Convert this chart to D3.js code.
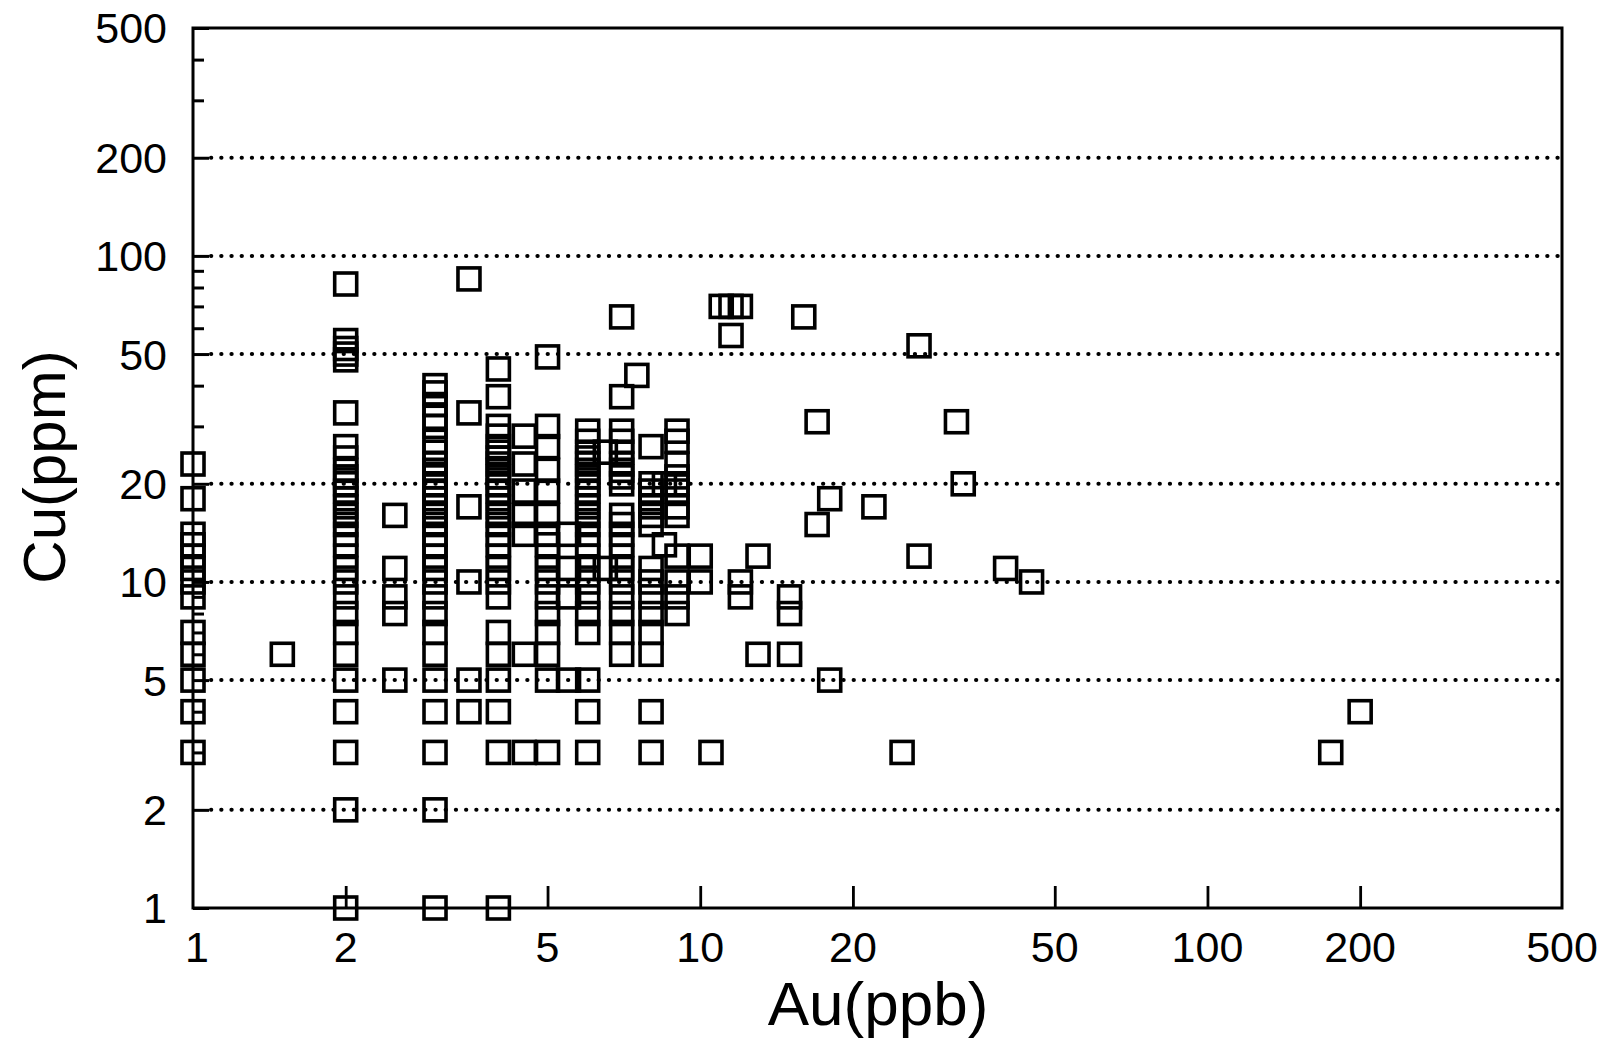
<!DOCTYPE html>
<html>
<head>
<meta charset="utf-8">
<script src="https://cdn.jsdelivr.net/npm/d3@7"></script>
<style>
  html, body { margin: 0; padding: 0; background: #fff; }
  svg { display: block; }
  text { font-family: "Liberation Sans", Arial, sans-serif; fill: #000; }
</style>
</head>
<body>
<svg id="chart" width="1611" height="1043"></svg>
<script>
// ---- Data ----
const auLevels = [1, 1.5, 2, 2.5, 3, 3.5, 4, 4.5, 5, 5.5, 6, 6.5, 7, 7.5, 8, 8.5, 9, 10, 10.5, 11, 11.5, 12, 13, 15, 16, 17, 18, 22, 25, 27, 32, 33, 40, 45, 175, 200];
const cuAtAu1   = [23, 18, 14, 13, 12, 11, 10, 9, 7, 6, 5, 4, 3];
const cuAtAu1_5 = [6];
const cuAtAu2   = [82, 55, 52, 50, 48, 33, 26, 24, 22, 21, 20, 19, 18, 17, 16, 15, 14, 13, 12, 11, 10, 9, 8, 7, 6, 5, 4, 3, 2, 1];
const cuAtAu2_5 = [16, 11, 9, 8, 5];
const cuAtAu3   = [40, 38, 35, 32, 30, 27, 25, 23, 22, 21, 20, 19, 18, 17, 16, 15, 14, 13, 12, 11, 10, 9, 8, 7, 6, 5, 4, 3, 2, 1];
const cuAtAu3_5 = [85, 33, 17, 10, 5, 4];
const cuAtAu4   = [45, 37, 30, 28, 26, 25, 24, 23, 22, 21, 20, 19, 18, 17, 16, 15, 14, 13, 12, 11, 10, 9, 7, 6, 5, 4, 3, 1];
const cuAtAu4_5 = [28, 23, 19, 16, 14, 6, 3];
const cuAtAu5   = [49, 30, 26, 22, 19, 16, 14, 13, 12, 11, 10, 9, 8, 7, 6, 5, 3];
const cuAtAu5_5 = [14, 11, 9, 5];
const cuAtAu6   = [29, 27, 25, 24, 23, 22, 21, 20, 19, 18, 17, 16, 15, 14, 13, 12, 11, 10, 9, 8, 7, 5, 4, 3];
const cuAtAu6_5 = [25, 11];
const cuAtAu7   = [65, 37, 29, 27, 25, 23, 22, 21, 20, 16, 15, 14, 13, 12, 11, 10, 9, 8, 7, 6];
const cuAtAu7_5 = [43];
const cuAtAu8   = [26, 20, 19, 18, 17, 16, 15, 11, 10, 9, 8, 7, 6, 4, 3];
const cuAtAu8_5 = [20, 13];
const cuAtAu9   = [29, 27, 23, 21, 20, 19, 17, 16, 12, 10, 9, 8];
const cuAtAu10  = [12, 10];
const cuAtAu10_5 = [3];
const cuAtAu11  = [70];
const cuAtAu11_5 = [70, 57];
const cuAtAu12  = [70, 10, 9];
const cuAtAu13  = [12, 6];
const cuAtAu15  = [9, 8, 6];
const cuAtAu16  = [65];
const cuAtAu17  = [31, 15];
const cuAtAu18  = [18, 5];
const cuAtAu22  = [17];
const cuAtAu25  = [3];
const cuAtAu27  = [53, 12];
const cuAtAu32  = [31];
const cuAtAu33  = [20];
const cuAtAu40  = [11];
const cuAtAu45  = [10];
const cuAtAu175 = [3];
const cuAtAu200 = [4];
const cuByAu = [cuAtAu1, cuAtAu1_5, cuAtAu2, cuAtAu2_5, cuAtAu3, cuAtAu3_5, cuAtAu4, cuAtAu4_5, cuAtAu5, cuAtAu5_5,
  cuAtAu6, cuAtAu6_5, cuAtAu7, cuAtAu7_5, cuAtAu8, cuAtAu8_5, cuAtAu9, cuAtAu10, cuAtAu10_5, cuAtAu11, cuAtAu11_5,
  cuAtAu12, cuAtAu13, cuAtAu15, cuAtAu16, cuAtAu17, cuAtAu18, cuAtAu22, cuAtAu25, cuAtAu27, cuAtAu32, cuAtAu33,
  cuAtAu40, cuAtAu45, cuAtAu175, cuAtAu200];

const xTickValues = [1, 2, 5, 10, 20, 50, 100, 200, 500];
const yTickValues = [1, 2, 5, 10, 20, 50, 100, 200, 500];
const yMinorTicks = [3, 4, 6, 7, 8, 9, 30, 40, 60, 70, 80, 90, 300, 400];
const yGridValues = [2, 5, 10, 20, 50, 100, 200];
const xTitle = "Au(ppb)";
const yTitle = "Cu(ppm)";

// ---- Build points ----
const points = [];
auLevels.forEach((au, i) => cuByAu[i].forEach(cu => points.push({au, cu})));

// ---- Layout ----
const L = 193, R = 1562, T = 28, B = 908;
const svg = d3.select("#chart");
const x = d3.scaleLog().domain([1, 500]).range([L, R]);
const y = d3.scaleLog().domain([1, 500]).range([B, T]);

// gridlines (dotted)
svg.append("g").selectAll("line").data(yGridValues).join("line")
  .attr("x1", L + 18).attr("x2", R)
  .attr("y1", d => y(d)).attr("y2", d => y(d))
  .attr("stroke", "#000").attr("stroke-width", 4)
  .attr("stroke-linecap", "round")
  .attr("stroke-dasharray", "0.3,9.9");

// Y axis with major ticks (inside)
const yAxis = d3.axisRight(y).tickValues(yTickValues).tickSize(16).tickFormat("");
const gy = svg.append("g").attr("transform", `translate(${L},0)`).call(yAxis);
gy.select(".domain").remove();
gy.selectAll(".tick line").attr("stroke", "#000").attr("stroke-width", 3);
// minor ticks
const yAxisMinor = d3.axisRight(y).tickValues(yMinorTicks).tickSize(11).tickFormat("");
const gym = svg.append("g").attr("transform", `translate(${L},0)`).call(yAxisMinor);
gym.select(".domain").remove();
gym.selectAll(".tick line").attr("stroke", "#000").attr("stroke-width", 3);

// Y tick labels
svg.append("g").selectAll("text").data(yTickValues).join("text")
  .attr("x", 167).attr("y", d => y(d)).attr("dy", "0.36em")
  .attr("text-anchor", "end").attr("font-size", 43)
  .text(d => d);

// X axis with major ticks (upward)
const xAxis = d3.axisTop(x).tickValues(xTickValues.slice(1, -1)).tickSize(22).tickFormat("");
const gx = svg.append("g").attr("transform", `translate(0,${B})`).call(xAxis);
gx.select(".domain").remove();
gx.selectAll(".tick line").attr("stroke", "#000").attr("stroke-width", 2.8);

svg.append("g").selectAll("text").data(xTickValues).join("text")
  .attr("x", d => x(d) + (d === 1 ? 4 : 0)).attr("y", 962)
  .attr("text-anchor", "middle").attr("font-size", 43)
  .text(d => d);

// frame
svg.append("rect").attr("x", L).attr("y", T).attr("width", R - L).attr("height", B - T)
  .attr("fill", "none").attr("stroke", "#000").attr("stroke-width", 3);

// points: hollow squares
const S = 22;
svg.append("g").selectAll("rect").data(points).join("rect")
  .attr("x", d => x(d.au) - S / 2).attr("y", d => y(d.cu) - S / 2)
  .attr("width", S).attr("height", S)
  .attr("fill", "none").attr("stroke", "#000").attr("stroke-width", 3.6);

// axis titles
svg.append("text").attr("x", 878).attr("y", 1025).attr("text-anchor", "middle")
  .attr("font-size", 62).text(xTitle);
svg.append("text").attr("transform", "translate(65,467) rotate(-90)")
  .attr("text-anchor", "middle").attr("font-size", 60).text(yTitle);
</script>
</body>
</html>
